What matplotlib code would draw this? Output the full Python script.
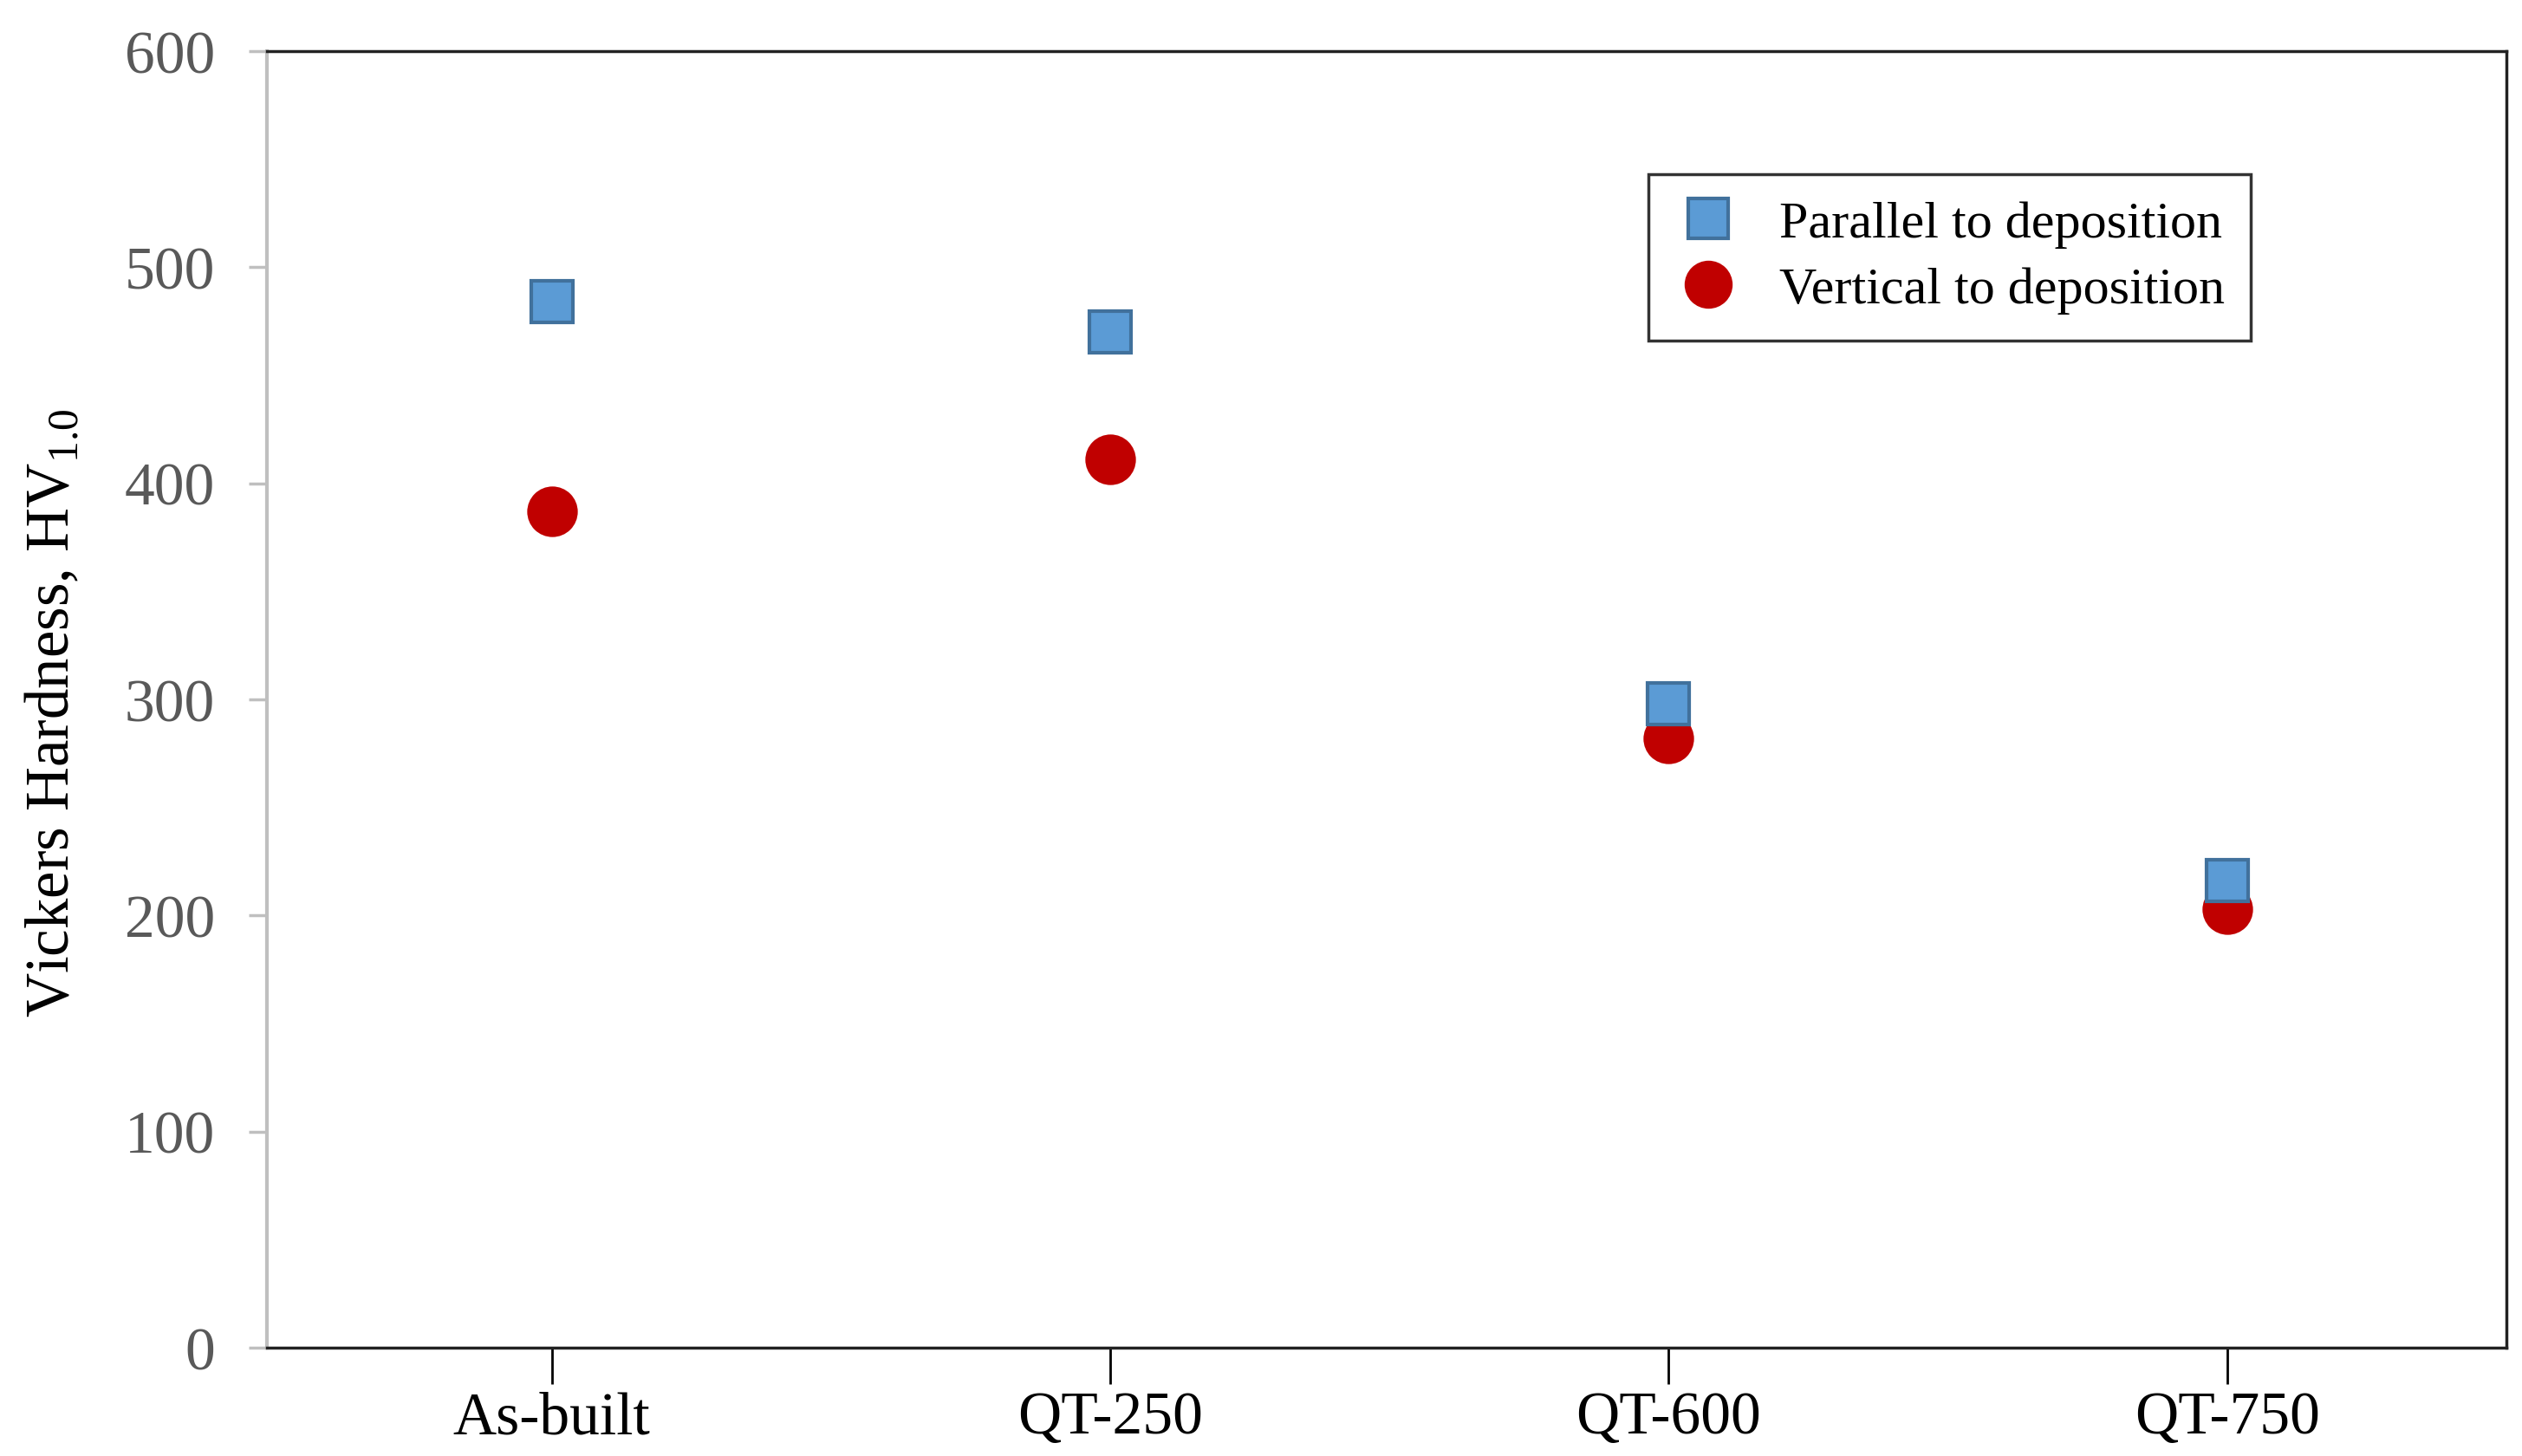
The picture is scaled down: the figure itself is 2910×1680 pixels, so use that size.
import matplotlib
matplotlib.use("Agg")
import matplotlib.pyplot as plt

plt.rcParams['font.family'] = ['Liberation Serif', 'DejaVu Serif']
plt.rcParams['mathtext.fontset'] = 'custom'
plt.rcParams['mathtext.rm'] = 'Liberation Serif'

kategorie = ["As-built", "QT-250", "QT-600", "QT-750"]
rownolegle = [484, 470, 298, 216]   # Parallel to deposition
pionowo = [387, 411, 282, 203]      # Vertical to deposition
y_ticki = [0, 100, 200, 300, 400, 500, 600]


def main():
    fig = plt.figure(figsize=(29.1, 16.81), dpi=100)
    ax = fig.add_axes([0.1058, 0.0744, 0.888, 0.8899])
    x = list(range(len(kategorie)))

    ax.plot(x, pionowo, 'o', color='#C00000', markersize=42, markeredgewidth=0,
            label='Vertical to deposition', zorder=3)
    ax.plot(x, rownolegle, 's', color='#5B9BD5', markeredgecolor='#41719C',
            markeredgewidth=3, markersize=35, label='Parallel to deposition', zorder=4)

    ax.set_xlim(-0.51, 3.5)
    ax.set_ylim(0, 600)
    ax.set_yticks(y_ticki)
    ax.set_xticks(x)
    ax.set_xticklabels(kategorie)

    ax.tick_params(axis='y', labelsize=50, labelcolor='#595959', color='#BFBFBF',
                   width=2.5, length=15, pad=28)
    ax.tick_params(axis='x', labelsize=50, labelcolor='black', color='black',
                   width=2, length=30, pad=6)

    for s in ['top', 'right', 'bottom']:
        ax.spines[s].set_color('#222222')
        ax.spines[s].set_linewidth(2.5)
    ax.spines['left'].set_color('#BFBFBF')
    ax.spines['left'].set_linewidth(3)

    ax.set_ylabel('Vickers Hardness, HV$_{\\mathrm{1.0}}$', fontsize=51)
    ax.yaxis.set_label_coords(-0.083, 0.49)

    uchwyty, etykiety = ax.get_legend_handles_labels()
    leg = ax.legend(uchwyty[::-1], etykiety[::-1], loc='upper left',
                    bbox_to_anchor=(0.617, 0.905), borderaxespad=0, fontsize=43.3,
                    frameon=True, fancybox=False, shadow=False, framealpha=1,
                    edgecolor='#333333', markerscale=0.95, handlelength=1.3,
                    handletextpad=0.7, borderpad=0.5, labelspacing=0.35)
    leg.get_frame().set_linewidth(2.5)

    fig.savefig("out.png", dpi=100)
    return 0


main()
